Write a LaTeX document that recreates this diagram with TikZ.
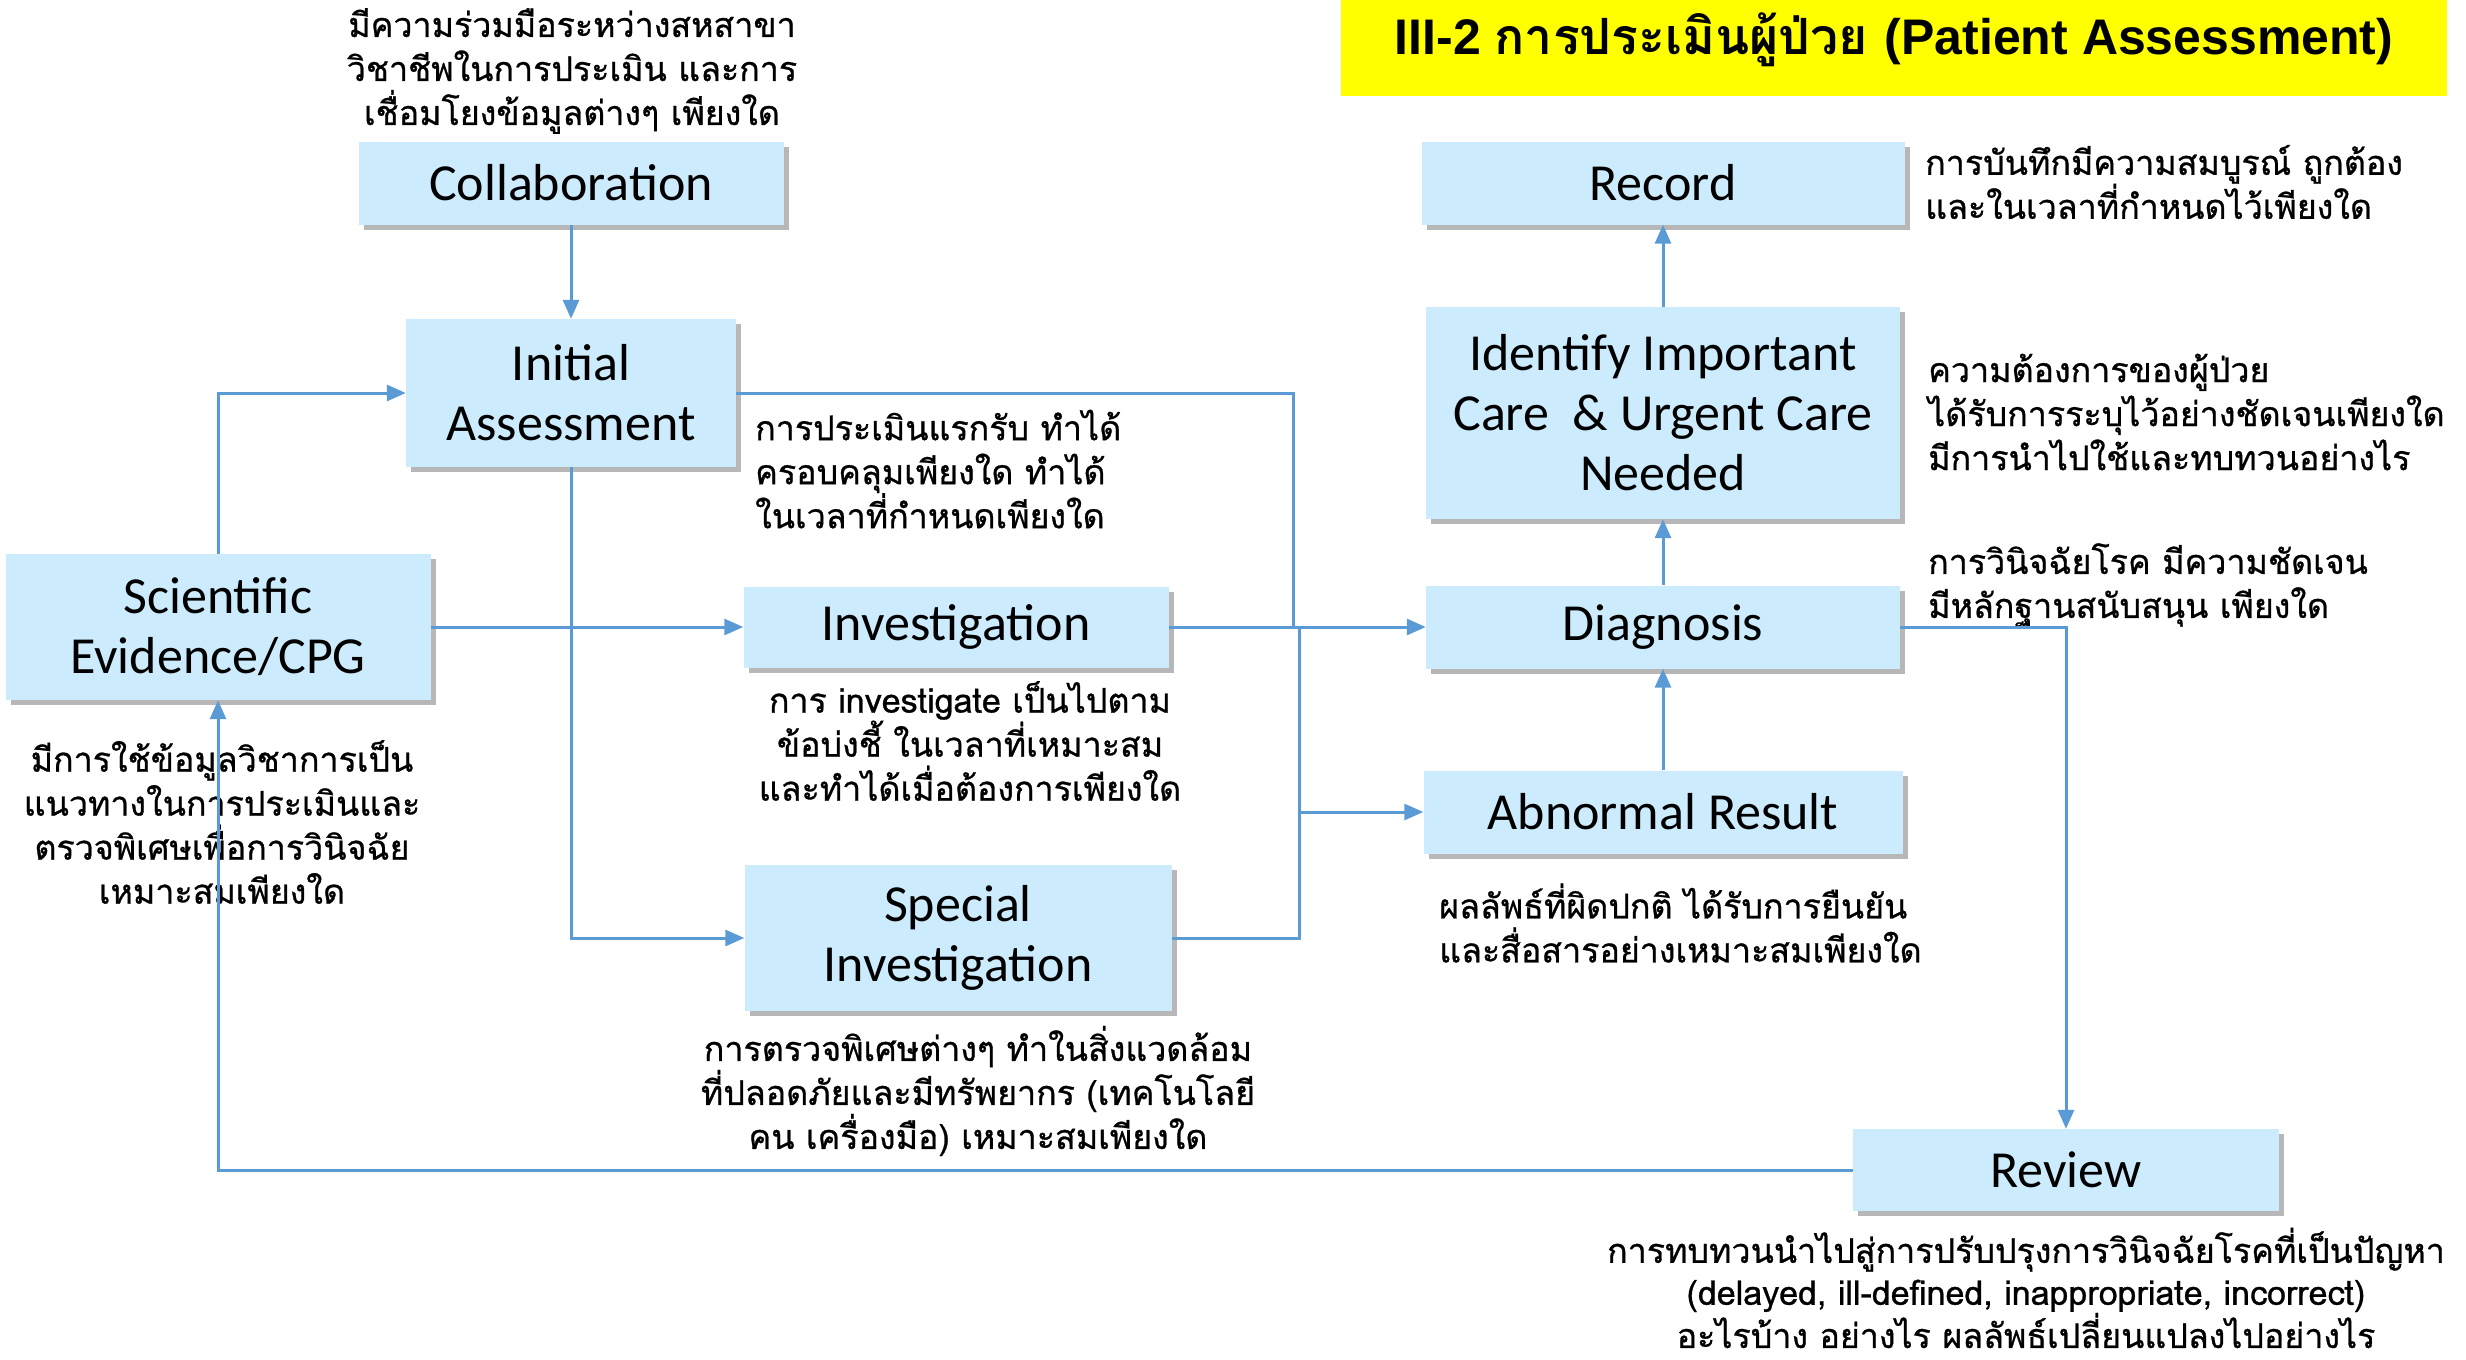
\documentclass[tikz,border=0pt]{standalone}
\usepackage{fontspec}
\usepackage{graphicx}
\setmainfont{Carlito}
\newfontfamily\thaifont[Script=Thai]{Loma}
\newfontfamily\thainote[Script=Thai,FakeBold=0.8]{Loma}
\newfontfamily\titlelat{Liberation Sans}
\usetikzlibrary{arrows.meta,shadows}
\definecolor{boxfill}{RGB}{204,235,252}
\definecolor{linec}{RGB}{91,155,213}
\definecolor{titley}{RGB}{255,255,0}
\begin{document}
\begin{tikzpicture}[x=1pt,y=-1pt,
  box/.style={fill=boxfill, drop shadow={shadow xshift=5pt,shadow yshift=-5pt,opacity=0.4,fill=black!70}, inner sep=0pt, align=center, font=\fontsize{52}{60}\selectfont},
  note/.style={font=\thainote\fontsize{34}{44}\selectfont, inner sep=0pt},
  conn/.style={draw=linec, line width=3pt},
  arr/.style={conn, -{Triangle[length=19pt,width=16pt]}},
]
\useasboundingbox (0,0) rectangle (2466,1360);
% title
\node[fill=titley, minimum width=1106pt, minimum height=96pt, anchor=north west, inner sep=0pt] (title) at (1341,0) {};
\node[inner sep=0pt, font=\bfseries\fontsize{50}{54}\selectfont] (titletext) at (1894,40) {\titlelat III-2 \thaifont การประเมินผู้ป่วย \titlelat (Patient Assessment)};
% boxes
\node[box, minimum width=425pt, minimum height=83pt] (collab) at (571,183) {Collaboration};
\node[box, minimum width=330pt, minimum height=148pt] (ia) at (571,393) {Initial\\Assessment};
\node[box, minimum width=425pt, minimum height=146pt] (sci) at (218,627) {Scientific\\Evidence/CPG};
\node[box, minimum width=425pt, minimum height=81pt] (inv) at (956,627) {Investigation};
\node[box, minimum width=427pt, minimum height=146pt] (spec) at (958,938) {Special\\Investigation};
\node[box, minimum width=483pt, minimum height=83pt] (rec) at (1663,183) {Record};
\node[box, minimum width=474pt, minimum height=212pt] (ident) at (1663,413) {Identify Important\\Care \ \& Urgent Care\\Needed};
\node[box, minimum width=474pt, minimum height=83pt] (diag) at (1663,627) {Diagnosis};
\node[box, minimum width=479pt, minimum height=83pt] (abn) at (1663,812) {Abnormal Result};
\node[box, minimum width=426pt, minimum height=82pt] (rev) at (2066,1170) {Review};
% notes
\node[note, align=center] (ncollab) at (572,71) {มีความร่วมมือระหว่างสหสาขา\\วิชาชีพในการประเมิน และการ\\เชื่อมโยงข้อมูลต่างๆ เพียงใด};
\node[note, align=left, anchor=west] (nia) at (755,469) {การประเมินแรกรับ ทำได้\\ครอบคลุมเพียงใด ทำได้\\ในเวลาที่กำหนดเพียงใด};
\node[note, align=center] (nsci) at (222,822) {มีการใช้ข้อมูลวิชาการเป็น\\แนวทางในการประเมินและ\\ตรวจพิเศษเพื่อการวินิจฉัย\\เหมาะสมเพียงใด};
\node[note, align=center] (ninv) at (970,741) {การ investigate เป็นไปตาม\\ข้อบ่งชี้ ในเวลาที่เหมาะสม\\และทำได้เมื่อต้องการเพียงใด};
\node[note, align=center] (nspec) at (978,1091) {การตรวจพิเศษต่างๆ ทำในสิ่งแวดล้อม\\ที่ปลอดภัยและมีทรัพยากร (เทคโนโลยี\\คน เครื่องมือ) เหมาะสมเพียงใด};
\node[note, align=left, anchor=west] (nrec) at (1925,182) {การบันทึกมีความสมบูรณ์ ถูกต้อง\\และในเวลาที่กำหนดไว้เพียงใด};
\node[note, align=left, anchor=west] (nident) at (1928,412) {ความต้องการของผู้ป่วย\\ได้รับการระบุไว้อย่างชัดเจนเพียงใด\\มีการนำไปใช้และทบทวนอย่างไร};
\node[note, align=left, anchor=west] (ndiag) at (1928,585) {การวินิจฉัยโรค มีความชัดเจน\\มีหลักฐานสนับสนุน เพียงใด};
\node[note, align=left, anchor=west] (nabn) at (1439,923) {ผลลัพธ์ที่ผิดปกติ ได้รับการยืนยัน\\และสื่อสารอย่างเหมาะสมเพียงใด};
\node[note, align=center, font=\thainote\fontsize{34}{42}\selectfont] (nrev) at (2026,1288) {การทบทวนนำไปสู่การปรับปรุงการวินิจฉัยโรคที่เป็นปัญหา\\(delayed, ill-defined, inappropriate, incorrect)\\อะไรบ้าง อย่างไร ผลลัพธ์เปลี่ยนแปลงไปอย่างไร};
% connectors
\coordinate (j1) at (1293,627);
\coordinate (j2) at (1299,627);
\draw[arr] (collab) -- (ia);
\draw[arr] (sci.north) |- (ia.west);
\draw[arr] (sci.east) -- (inv.west);
\draw[arr] (ia.south) |- (spec.west);
\draw[conn] (ia.east) -| (j1);
\draw[arr] (inv.east) -- (diag.west);
\draw[conn] (spec.east) -| (j2);
\draw[arr] (j2 |- abn.west) -- (abn.west);
\draw[arr] (abn) -- (diag);
\draw[arr] (diag) -- (ident);
\draw[arr] (ident) -- (rec);
\draw[arr] (diag.east) -| (rev.north);
\draw[arr] (rev.west) -| (sci.south);
\end{tikzpicture}
\end{document}
